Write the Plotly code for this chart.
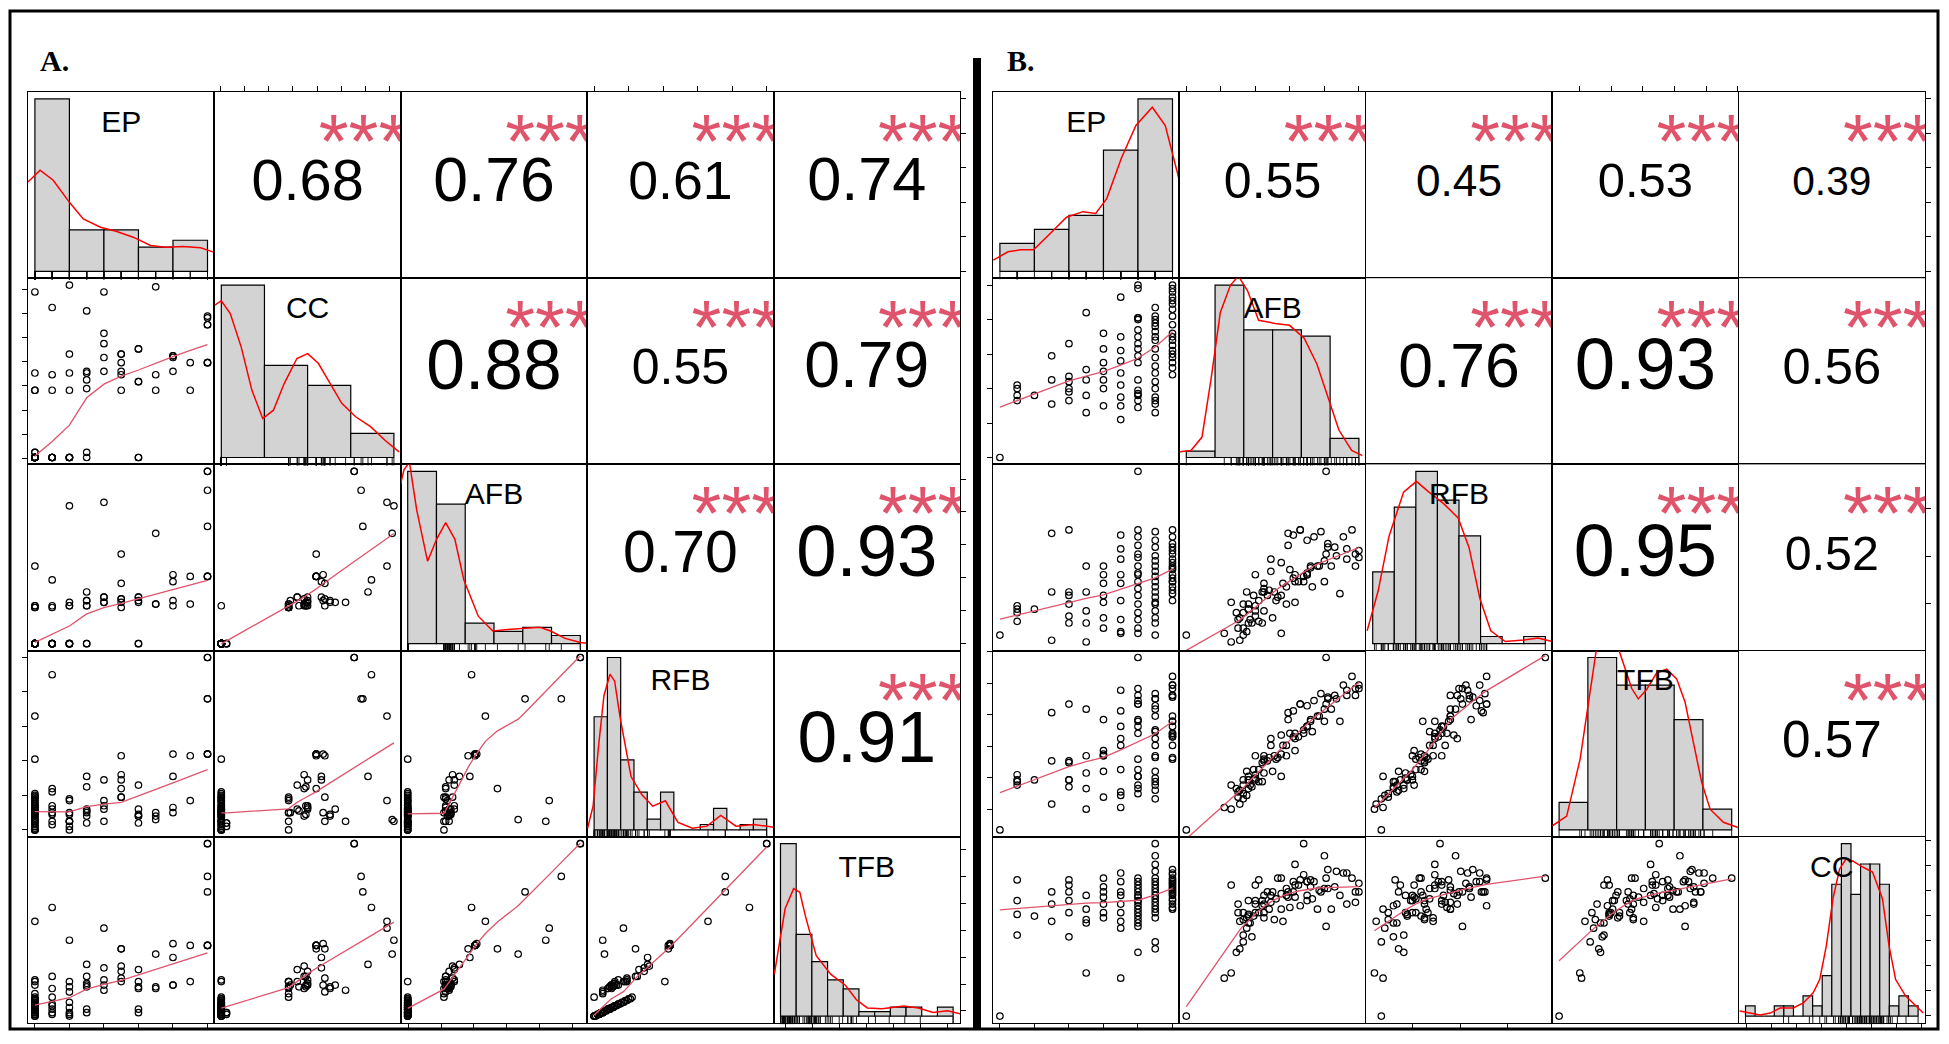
import numpy as np
import plotly.graph_objects as go

W, H = 1949, 1044

# ---------------- Panel A: 90 plants, EP in levels 0-10, other traits scaled 0-100
NAMES_A = ["EP", "CC", "AFB", "RFB", "TFB"]

A_EP = [0, 0, 0, 0, 0, 0, 0, 0, 0, 0, 0, 0, 0, 0, 0, 0, 0, 0, 0, 0, 0, 0, 0, 0, 0, 0, 0,
        1, 1, 1, 1, 1, 1, 2, 2, 2, 2, 2, 3, 3, 6, 6,
        0, 0, 0, 0, 1, 1, 2, 2, 2, 3, 3, 3, 3, 4, 4, 4, 4, 5, 5, 5, 5, 6, 6, 6, 6, 7, 7, 8, 8, 9,
        10, 10, 10, 2, 4, 7, 0, 1, 3, 5, 10, 8, 8, 9, 5,
        10, 10, 10]
A_CC = [0, 0, 0, 0, 0, 0, 0, 0, 0, 0, 0, 0, 0, 0, 0, 0, 0, 0, 0, 0, 0, 3, 0, 3, 0, 0, 0,
        0, 0, 0, 0, 0, 0, 0, 0, 0, 0, 0, 3, 0, 0, 0,
        49, 39, 0, 39, 48, 39, 49, 39, 60, 50, 49, 45, 40, 50, 66, 72, 58, 48, 50, 39, 60,
        44, 63, 63, 44, 48, 39, 59, 50, 39,
        77, 81, 82, 100, 96, 99, 96, 87, 85, 55, 55, 59, 58, 55, 60,
        77, 55, 55]
A_AFB = [0, 0, 0, 0, 0, 0, 0, 0, 0, 0, 0, 0, 0, 0, 0, 0, 0, 0, 0, 0, 0, 0, 0, 0, 0, 0, 0,
         0, 0, 0, 0, 0, 0, 0, 0, 0, 0, 0, 0, 0, 0, 0,
         22, 21, 22, 21, 22, 21, 24, 22, 22, 25, 22, 22, 25, 27, 24, 24, 27, 26, 24, 21, 26,
         27, 24, 25, 27, 23, 23, 25, 22, 23,
         100, 89, 68, 80, 82, 64, 45, 37, 30, 52, 39, 40, 36, 39, 35,
         100, 39, 39]
A_RFB = [41, 21, 20, 19, 18, 17, 16, 15, 14, 13, 12, 12, 11, 11, 10, 10, 9, 8, 7, 6, 5, 4, 3, 2, 1, 0, 0,
         22, 14, 12, 9, 5, 3, 17, 10, 5, 2, 0, 4, 8, 4, 8,
         14, 5, 19, 0, 24, 10, 9, 18, 5, 12, 25, 11, 10, 14, 12, 5, 29, 32, 29, 19, 19,
         12, 8, 9, 26, 8, 10, 10, 13, 17,
         100, 76, 76, 5, 17, 6, 66, 90, 31, 24, 44, 44, 31, 43, 43,
         100, 44, 44]
A_TFB = [20, 10, 10, 9, 9, 8, 8, 7, 7, 6, 6, 6, 5, 5, 5, 5, 4, 4, 3, 3, 2, 2, 1, 1, 0, 0, 0,
         11, 7, 6, 4, 2, 1, 8, 5, 2, 1, 0, 2, 4, 2, 4,
         18, 13, 21, 11, 23, 16, 17, 20, 14, 19, 23, 17, 18, 21, 18, 15, 28, 29, 26, 20, 22,
         20, 16, 17, 27, 16, 17, 18, 18, 20,
         100, 81, 72, 44, 51, 36, 55, 63, 30, 39, 41, 42, 34, 41, 39,
         100, 41, 41]

# histogram bars (counts) and density curves
A_BREAKS = [[0, 2, 4, 6, 8, 10],
            [0, 25, 50, 75, 100],
            [0, 16.67, 33.33, 50, 66.67, 83.33, 100],
            [0, 7.7, 15.4, 23.1, 30.8, 38.5, 46.2, 53.8, 61.5, 69.2, 76.9, 84.6, 92.3, 100],
            [0, 9.09, 18.18, 27.27, 36.36, 45.45, 54.55, 63.64, 72.73, 81.82, 90.91, 100]]
A_COUNTS = [[50, 12, 12, 7, 9],
            [43, 23, 18, 6],
            [42, 34, 5, 3, 4, 2],
            [21, 32, 13, 7, 2, 7, 0, 0, 1, 4, 0, 1, 2],
            [38, 18, 12, 8, 6, 1, 1, 2, 2, 0, 2]]
A_DENS_X = [[-0.4, 0.3, 1.06, 2.0, 2.8, 3.8, 4.7, 5.7, 6.7, 7.6, 8.6, 9.6, 10.4],
            [-3.75, 0, 5.2, 11.5, 17.7, 24, 30.2, 36.5, 43.8, 50, 56.2, 63.5, 69.8, 78, 86.5, 94.8, 103],
            [-5.2, -2.1, 1, 5.2, 11.5, 16.8, 22, 27.3, 32.5, 40.9, 49.3, 61.8, 76.5, 82.8, 91.2, 100, 103.8],
            [-3.8, -0.6, 2.5, 5.7, 9.2, 11.9, 15.1, 21.4, 27.7, 34, 41.3, 48.6, 57, 65.4, 73.4, 82.2, 92.7, 104],
            [-3.6, -0.4, 2.7, 7.6, 11.2, 14.4, 20.7, 29.2, 37.6, 44, 50.3, 58.8, 71.5, 79.9, 88.4, 96.8, 105]]
A_DENS_Y = [[25.9, 29.3, 26.4, 20.0, 15.2, 12.8, 11.6, 9.9, 7.5, 7.0, 7.2, 6.8, 5.5],
            [38, 39.1, 35.9, 27.6, 16.8, 9.7, 11.8, 18.5, 24.7, 25.9, 23.5, 18, 13.5, 10.1, 7.7, 4.3, 1.4],
            [37.1, 42.4, 44.2, 32.6, 20.1, 25.5, 29.5, 25.5, 15.6, 6.7, 3.1, 3.6, 4.0, 3.1, 1.3, 0.3, 0.1],
            [0.3, 4.4, 15.3, 24.9, 28.9, 27.6, 20.8, 9.9, 6.5, 4.4, 5.4, 1.4, 0.3, 0.7, 2.7, 0.7, 1.0, 0.5],
            [9.2, 16.5, 23.7, 28.1, 27.3, 22.1, 13.3, 9.2, 6.8, 3.6, 1.8, 1.6, 2.2, 1.8, 0.8, 1.2, 0.4]]
# upper panels, row by row: (1,2) (1,3) (1,4) (1,5) (2,3) ...
A_CORR = [0.68, 0.76, 0.61, 0.74, 0.88, 0.55, 0.79, 0.70, 0.93, 0.91]
A_TICKS = {"EP": [0, 2, 4, 6, 8, 10],
           "CC": [-0.5, 13.5, 27.5, 41.5, 55.5, 69.5, 83.5, 97.5],
           "AFB": [0.4, 19.4, 38.4, 57.4, 76.4, 95.4],
           "RFB": [0, 20, 40, 60, 80, 100],
           "TFB": [3, 18.6, 34.2, 49.8, 65.4, 81, 96.6]}

# ---------------- Panel B: 90 plants
NAMES_B = ["EP", "AFB", "RFB", "TFB", "CC"]

B_EP = [0, 1, 1, 1, 1, 2, 3, 3, 3, 4, 4, 4, 4, 4, 4, 5, 5, 5, 5, 5, 6, 6, 6, 6, 6, 6, 6,
        7, 7, 7, 7, 7, 7, 7, 7, 7,
        8, 8, 8, 8, 8, 8, 8, 8, 8, 8, 8, 8, 8, 8, 8, 8, 8,
        9, 9, 9, 9, 9, 9, 9, 9, 9, 9, 9, 9, 9, 9, 9, 9, 9, 9,
        10, 10, 10, 10, 10, 10, 10, 10, 10, 10, 10, 10, 10, 10, 10, 10, 10, 10, 10]
B_AFB = [0, 42, 40, 36, 33, 36, 59, 31, 45, 66, 47, 44, 40, 38, 33, 84, 51, 36, 26, 45,
         72, 63, 45, 40, 55, 30, 50,
         93, 62, 56, 49, 35, 30, 22, 70, 42,
         100, 98, 81, 80, 74, 70, 66, 63, 59, 55, 45, 39, 37, 36, 33, 29, 81,
         87, 82, 80, 78, 76, 73, 70, 68, 63, 58, 53, 49, 44, 40, 35, 33, 31, 26,
         100, 98, 96, 93, 91, 89, 86, 82, 77, 72, 70, 68, 65, 62, 60, 58, 55, 52, 48]
B_RFB = [5, 13, 22, 20, 18, 20, 64, 2, 30, 66, 28, 30, 16, 12, 23, 45, 30, 12, 1, 19,
         45, 24, 35, 40, 28, 9, 15,
         55, 63, 35, 49, 7, 14, 6, 40, 25,
         50, 45, 100, 36, 62, 41, 66, 40, 57, 6, 32, 28, 14, 23, 9, 18, 52,
         51, 56, 48, 65, 45, 33, 60, 39, 36, 23, 27, 42, 12, 19, 30, 5, 15, 24,
         54, 52, 66, 49, 62, 29, 56, 58, 45, 44, 40, 36, 36, 38, 43, 33, 47, 25, 31]
B_TFB = [0, 28, 32, 29, 26, 29, 68, 15, 40, 73, 40, 39, 29, 25, 29, 70, 43, 24, 12, 33,
         64, 46, 43, 43, 44, 19, 34,
         81, 69, 49, 53, 20, 22, 13, 60, 35,
         82, 78, 100, 63, 75, 60, 73, 56, 64, 31, 41, 35, 26, 31, 21, 24, 73,
         76, 76, 70, 79, 66, 57, 72, 58, 53, 43, 42, 49, 28, 30, 34, 18, 23, 26,
         84, 82, 89, 78, 84, 63, 78, 77, 66, 63, 60, 56, 54, 54, 56, 49, 55, 41, 42]
B_CC = [0, 79, 67, 59, 47, 58, 72, 55, 65, 79, 72, 67, 76, 46, 60, 62, 56, 54, 25, 70,
        75, 69, 57, 65, 80, 60, 72,
        83, 72, 55, 70, 51, 65, 22, 78, 60,
        72, 66, 80, 74, 78, 70, 64, 76, 69, 62, 60, 58, 54, 67, 56, 37, 52,
        84, 74, 93, 72, 62, 68, 78, 100, 88, 70, 80, 66, 64, 60, 57, 43, 39, 76,
        77, 72, 80, 65, 83, 70, 75, 85, 73, 79, 67, 82, 76, 78, 63, 74, 71, 68, 62]

B_BREAKS = [[0, 2, 4, 6, 8, 10],
            [0, 16.67, 33.33, 50, 66.67, 83.33, 100],
            [0, 12.5, 25, 37.5, 50, 62.5, 75, 87.5, 100],
            [0, 16.67, 33.33, 50, 66.67, 83.33, 100],
            [0, 5.56, 11.11, 16.67, 22.22, 27.78, 33.33, 38.89, 44.44, 50, 55.56, 61.11, 66.67,
             72.22, 77.78, 83.33, 88.89, 94.44, 100]]
B_COUNTS = [[6, 9, 12, 26, 37],
            [1, 27, 20, 20, 19, 3],
            [10, 19, 24, 20, 15, 1, 0, 1],
            [4, 25, 21, 21, 16, 3],
            [1, 0, 0, 1, 1, 0, 2, 1, 4, 13, 17, 12, 15, 15, 13, 1, 2, 1]]
B_DENS_X = [[-0.38, 0.47, 1.2, 1.95, 2.8, 3.86, 4.81, 5.55, 6.19, 7.03, 7.88, 8.83, 9.58, 10.1, 10.4],
            [-3.6, 2.7, 9.1, 14.4, 19.7, 25.6, 30.2, 35.5, 41.9, 51.4, 59.8, 68.3, 75.7, 82, 88.4, 95.8, 102],
            [-3.2, 3.2, 9.5, 17.9, 25.3, 32.6, 41.1, 49.5, 55.8, 62.1, 68.4, 76.8, 87.4, 95.8, 104],
            [-3.9, 4.4, 12.2, 18, 21.8, 25.7, 29.5, 33.4, 37.3, 42.1, 45.9, 50.8, 56.6, 62.4, 68.1,
             73, 77.8, 82.6, 87.5, 95.2, 104],
            [-3.4, 2.9, 8.6, 14.3, 20.1, 27.7, 33.5, 39.2, 43, 46.8, 50.7, 54.5, 58.3, 62.1, 67.9,
             73.6, 79.3, 83.2, 87, 92.7, 98.5, 103]]
B_DENS_Y = [[2.4, 4.2, 4.6, 4.6, 7.7, 11.6, 12.8, 12.4, 15.6, 24.2, 31.3, 35.2, 31.3, 24.2, 19.5],
            [0.9, 1.1, 3.2, 12.4, 22.7, 27, 28.4, 26.1, 21.5, 21, 20.7, 18.7, 14.6, 9.5, 4.3, 1.1, 0.3],
            [1.8, 7.4, 15, 21.1, 22.6, 21.1, 19.5, 17.5, 13.4, 6.3, 1.8, 0.3, 0.5, 0.8, 0.3],
            [0.6, 2, 10.3, 19.9, 26.5, 29, 29.5, 27, 24, 20.5, 19, 20.4, 22.8, 23.3, 21.9,
             18.5, 12.7, 6.9, 3, 1.1, 0.3],
            [0.5, 0.3, 0.1, 0.3, 0.8, 0.8, 1.3, 2.3, 3.6, 6.9, 11.6, 14.5, 15.5, 15.3, 14.7,
             14.2, 11.6, 6.9, 3.6, 2, 1, 0.3]]
B_CORR = [0.55, 0.45, 0.53, 0.39, 0.76, 0.93, 0.56, 0.95, 0.52, 0.57]
B_TICKS = {"EP": [0, 2, 4, 6, 8, 10],
           "AFB": [0, 20, 40, 60, 80, 100],
           "RFB": [23.3, 50.8, 78.3],
           "TFB": [12, 30.3, 48.6, 66.9, 85.2, 103.5],
           "CC": [0.6, 15.1, 29.6, 44.1, 58.6, 73.1, 87.6, 102.1]}

for col in (A_CC, A_AFB, A_RFB, A_TFB, B_AFB, B_RFB, B_TFB, B_CC):
    assert len(col) == 90
assert len(A_EP) == 90 and len(B_EP) == 90

SANS = "Liberation Sans, Arial, Helvetica, sans-serif"
SERIF = "Liberation Serif, Times New Roman, serif"
PINK = "#DF536B"


def lowess(x, y, f=2 / 3, iters=3):
    # same recipe as R's stats::lowess used by panel.smooth
    x = np.asarray(x, float)
    y = np.asarray(y, float)
    order = np.argsort(x, kind="mergesort")
    x, y = x[order], y[order]
    n = len(x)
    ns = max(min(int(round(f * n)), n), 2)
    span = x[-1] - x[0]
    rob = np.ones(n)
    fit = y.copy()
    for step in range(iters + 1):
        for i in range(n):
            d = np.abs(x - x[i])
            h = np.sort(d)[ns - 1]
            w = np.zeros(n)
            near = d <= 0.999 * h
            if h > 0:
                w[near] = (1 - (d[near] / h) ** 3) ** 3
            w[d <= 0.001 * h] = 1.0
            w *= rob
            if w.sum() <= 0:
                fit[i] = y[i]
                continue
            w /= w.sum()
            xb = np.sum(w * x)
            yb = np.sum(w * y)
            c = np.sum(w * (x - xb) ** 2)
            if h > 0 and np.sqrt(c) > 0.001 * span:
                fit[i] = yb + np.sum(w * (x - xb) * y) / c * (x[i] - xb)
            else:
                fit[i] = yb
        if step == iters:
            break
        res = np.abs(y - fit)
        sc = res.mean()
        cmad = 6 * np.median(res)
        if cmad <= 0 or cmad < 1e-7 * sc:
            break
        u = res / cmad
        rob = np.where(u < 1, (1 - u ** 2) ** 2, 0.0)
        rob[u <= 0.001] = 1.0
        rob[u > 0.999] = 0.0
    return x, fit


def var_range(name):
    lo, hi = (0, 10) if name == "EP" else (0, 100)
    pad = 0.04 * (hi - lo)
    return [lo - pad, hi + pad]


def base_axis(domain, rng, anchor):
    return dict(domain=domain, range=rng, anchor=anchor, showgrid=False, zeroline=False,
                showline=True, mirror=True, linecolor="black", linewidth=1.2,
                showticklabels=False, ticks="", fixedrange=True)


def add_ticks(ax, vals, side):
    ax.update(ticks="outside", ticklen=5, tickwidth=1.2, tickcolor="black",
              tickvals=vals, side=side)


panels = [
    dict(x0=28, names=NAMES_A, data=[A_EP, A_CC, A_AFB, A_RFB, A_TFB], breaks=A_BREAKS,
         counts=A_COUNTS, dx=A_DENS_X, dy=A_DENS_Y, corr=A_CORR, ticks=A_TICKS),
    dict(x0=993, names=NAMES_B, data=[B_EP, B_AFB, B_RFB, B_TFB, B_CC], breaks=B_BREAKS,
         counts=B_COUNTS, dx=B_DENS_X, dy=B_DENS_Y, corr=B_CORR, ticks=B_TICKS),
]

CW, CH, Y0 = 186.4, 186.2, 92
BASE = 0.8 * CW / 1.946   # font px at which "0.00" fills 80% of a cell width

fig = go.Figure()
layout = dict(width=W, height=H, margin=dict(l=0, r=0, t=0, b=0),
              paper_bgcolor="white", plot_bgcolor="white", showlegend=False)
k = 0
extra = 50
for p in panels:
    names, data, ticks = p["names"], p["data"], p["ticks"]
    ci = 0
    for i in range(5):
        for j in range(5):
            k += 1
            xa = "x" if k == 1 else f"x{k}"
            ya = "y" if k == 1 else f"y{k}"
            left = p["x0"] + j * CW
            top = Y0 + i * CH
            xr = var_range(names[j])
            if i == j:
                M = max(p["counts"][i])
                yr = [-0.04 * M, 1.04 * M]
            else:
                yr = var_range(names[i])
            xax = base_axis([left / W, (left + CW) / W], xr, ya)
            yax = base_axis([1 - (top + CH) / H, 1 - top / H], yr, xa)
            if i == 0 and j % 2 == 1:
                add_ticks(xax, ticks[names[j]], "top")
            if i == 4 and j % 2 == 0:
                add_ticks(xax, ticks[names[j]], "bottom")
            if j == 0 and i % 2 == 1:
                add_ticks(yax, ticks[names[i]], "left")
            if j == 4 and i % 2 == 0 and i != j:
                add_ticks(yax, ticks[names[i]], "right")
            layout["xaxis" if k == 1 else f"xaxis{k}"] = xax
            layout["yaxis" if k == 1 else f"yaxis{k}"] = yax

            fx = lambda t: xr[0] + t * (xr[1] - xr[0])
            fy = lambda t: yr[0] + t * (yr[1] - yr[0])
            common = dict(xaxis=xa, yaxis=ya, hoverinfo="skip", showlegend=False)

            if i > j:
                fig.add_trace(go.Scatter(
                    x=data[j], y=data[i], mode="markers", cliponaxis=True,
                    marker=dict(symbol="circle-open", size=6.5, color="black",
                                line=dict(width=1.2, color="black")), **common))
                sx, sy = lowess(data[j], data[i])
                fig.add_trace(go.Scatter(x=sx, y=sy, mode="lines",
                                         line=dict(color=PINK, width=1.3), **common))
            elif i == j:
                br = np.array(p["breaks"][i], float)
                fig.add_trace(go.Bar(
                    x=(br[:-1] + br[1:]) / 2, y=p["counts"][i], width=np.diff(br),
                    marker=dict(color="#D3D3D3", line=dict(color="black", width=1.2)), **common))
                fig.add_trace(go.Scatter(x=p["dx"][i], y=p["dy"][i], mode="lines",
                                         line=dict(color="red", width=1.5), **common))
                rug_y = yr[0] + 0.015 * (yr[1] - yr[0])
                fig.add_trace(go.Scatter(
                    x=data[i], y=[rug_y] * len(data[i]), mode="markers", cliponaxis=False,
                    marker=dict(symbol="line-ns", size=5.5,
                                line=dict(width=0.9, color="black")), **common))
                fig.add_trace(go.Scatter(
                    x=[fx(0.5)], y=[fy(0.827)], mode="text", text=[names[i]],
                    textposition="middle center", cliponaxis=False,
                    textfont=dict(family=SANS, size=30, color="black"), **common))
                if i == 4:
                    extra += 1
                    layout[f"yaxis{extra}"] = dict(
                        overlaying=ya, anchor=xa, side="right", range=var_range(names[i]),
                        showgrid=False, zeroline=False, showline=False, showticklabels=False,
                        ticks="outside", ticklen=5, tickwidth=1.2, tickcolor="black",
                        tickvals=ticks[names[i]], fixedrange=True)
                    fig.add_trace(go.Scatter(x=[None], y=[None], xaxis=xa, yaxis=f"y{extra}",
                                             hoverinfo="skip", showlegend=False))
            else:
                r = p["corr"][ci]
                ci += 1
                fig.add_trace(go.Scatter(
                    x=[fx(0.5)], y=[fy(0.5)], mode="text", text=[f"{r:.2f}"],
                    textposition="middle center", cliponaxis=True,
                    textfont=dict(family=SANS, size=BASE * (r + 0.3) / 1.3, color="black"),
                    **common))
                fig.add_trace(go.Scatter(
                    x=[fx(0.8)], y=[fy(0.70)], mode="text", text=["***"],
                    textposition="middle center", cliponaxis=True,
                    textfont=dict(family=SANS, size=BASE, color=PINK), **common))

fig.update_layout(**layout)

# outer frame, thick divider and panel letters
fig.add_shape(type="rect", xref="paper", yref="paper", x0=10 / W, x1=1938 / W,
              y0=1 - 1029 / H, y1=1 - 11 / H, line=dict(color="black", width=3))
fig.add_shape(type="line", xref="paper", yref="paper", x0=977 / W, x1=977 / W,
              y0=1 - 1029 / H, y1=1 - 58 / H, line=dict(color="black", width=8))
for label, px in (("A.", 38), ("B.", 1005)):
    fig.add_annotation(x=px / W, y=1 - 60 / H, xref="paper", yref="paper", text=f"<b>{label}</b>",
                       showarrow=False, xanchor="left", yanchor="middle",
                       font=dict(family=SERIF, size=30, color="black"))

fig.write_html("out.html", config={"displayModeBar": False},
               post_script="document.body.style.margin='0';")
